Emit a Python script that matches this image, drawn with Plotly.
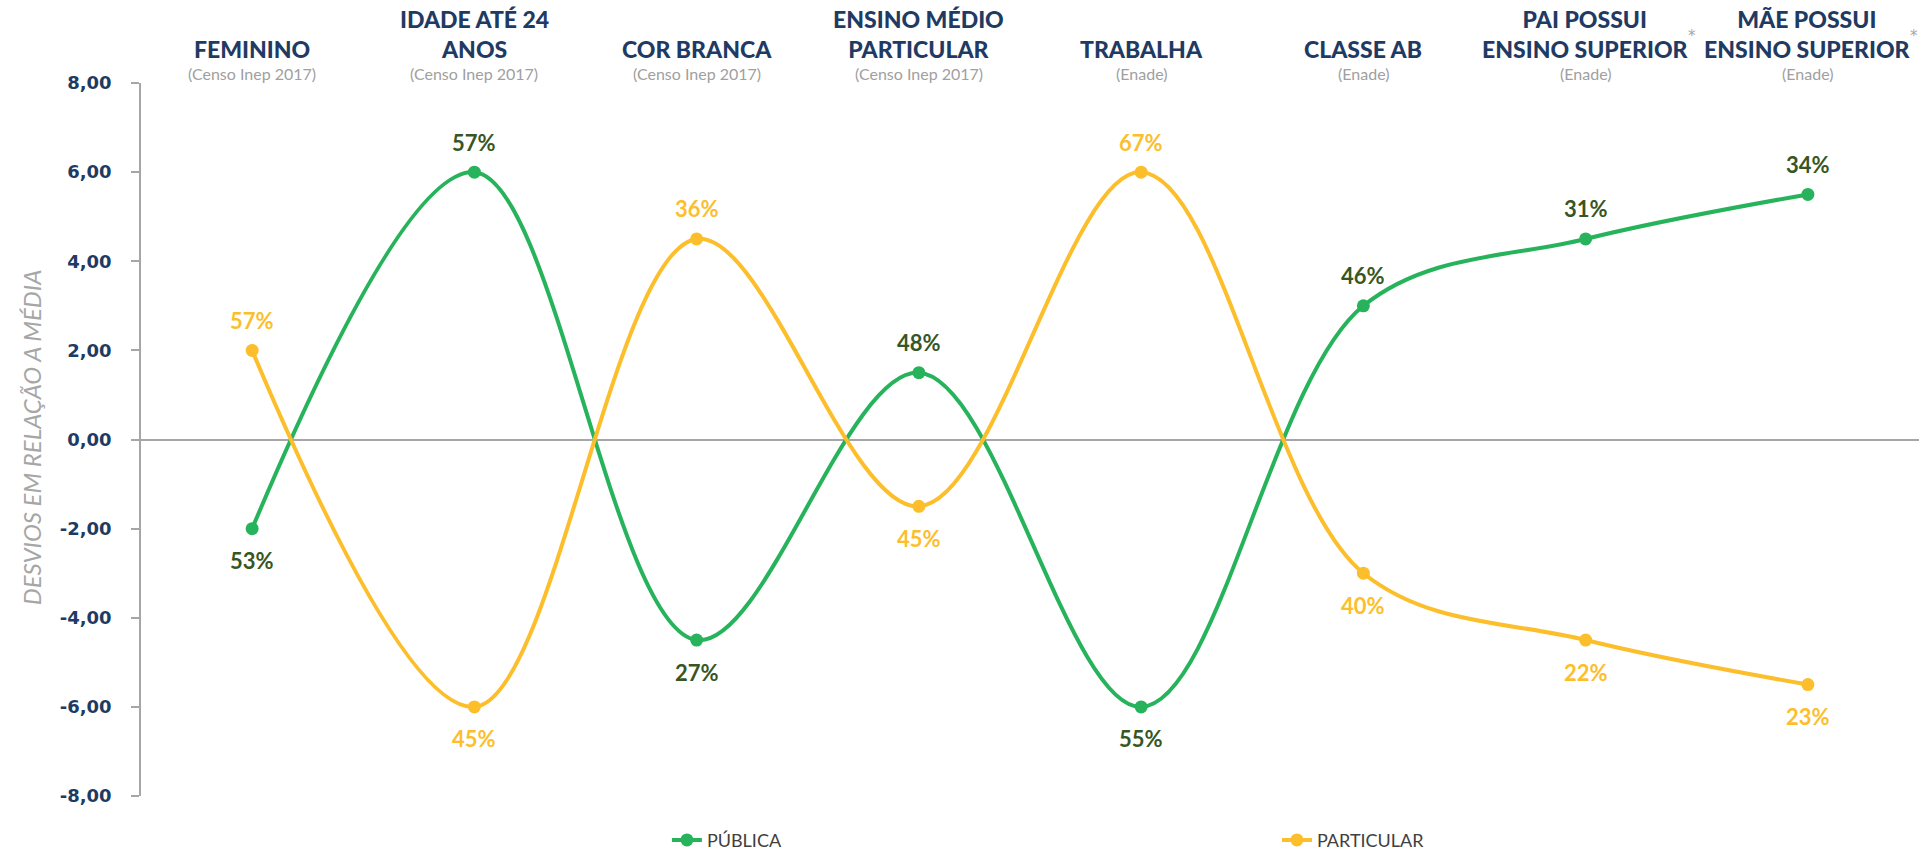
import plotly.graph_objects as go

# Categories shown across the top of the chart
categories = [
    "FEMININO",
    "IDADE ATÉ 24<br>ANOS",
    "COR BRANCA",
    "ENSINO MÉDIO<br>PARTICULAR",
    "TRABALHA",
    "CLASSE AB",
    "PAI POSSUI<br>ENSINO SUPERIOR",
    "MÃE POSSUI<br>ENSINO SUPERIOR",
]
sources = [
    "(Censo Inep 2017)",
    "(Censo Inep 2017)",
    "(Censo Inep 2017)",
    "(Censo Inep 2017)",
    "(Enade)",
    "(Enade)",
    "(Enade)",
    "(Enade)",
]
footnotes = ["", "", "", "", "", "", "*", "*"]

# Deviation from the mean for each network
publica = [-2.0, 6.0, -4.5, 1.5, -6.0, 3.0, 4.5, 5.5]
particular = [2.0, -6.0, 4.5, -1.5, 6.0, -3.0, -4.5, -5.5]

# Share labels printed next to each point
publica_pct = ["53%", "57%", "27%", "48%", "55%", "46%", "31%", "34%"]
particular_pct = ["57%", "45%", "36%", "45%", "67%", "40%", "22%", "23%"]

y_tickvals = [-8, -6, -4, -2, 0, 2, 4, 6, 8]
y_ticktext = ["-8,00", "-6,00", "-4,00", "-2,00", "0,00", "2,00", "4,00", "6,00", "8,00"]

GREEN = "#27B35B"
GREEN_DARK = "#375623"
YELLOW = "#FDBE2C"
NAVY = "#1F3B63"
GRAY = "#A6A6A6"

xs = list(range(len(categories)))

fig = go.Figure()
fig.add_trace(go.Scatter(
    x=xs, y=publica, name="PÚBLICA", mode="lines+markers",
    line=dict(color=GREEN, width=4, shape="spline", smoothing=1),
    marker=dict(color=GREEN, size=13),
))
fig.add_trace(go.Scatter(
    x=xs, y=particular, name="PARTICULAR", mode="lines+markers",
    line=dict(color=YELLOW, width=4, shape="spline", smoothing=1),
    marker=dict(color=YELLOW, size=13),
))

annotations = []

# Point labels: above positive points, below negative ones
for series, labels, color in ((publica, publica_pct, GREEN_DARK), (particular, particular_pct, YELLOW)):
    for x, v, t in zip(xs, series, labels):
        annotations.append(dict(
            x=x, y=v, xref="x", yref="y", text=t, showarrow=False,
            yshift=30 if v > 0 else -32,
            font=dict(family="Lato", size=22, color=color, weight="bold"),
        ))

# Category headers with their data source
for x, cat, src, note in zip(xs, categories, sources, footnotes):
    annotations.append(dict(
        x=x, y=1.0253, xref="x", yref="paper", text=cat, showarrow=False,
        yanchor="bottom",
        font=dict(family="Lato", size=23, color=NAVY, weight=900),
    ))
    annotations.append(dict(
        x=x, y=1.0133, xref="x", yref="paper", text=src, showarrow=False,
        yanchor="middle",
        font=dict(family="Lato", size=16, color="#A0A0A0"),
    ))
    if note:
        annotations.append(dict(
            x=x, y=1.066, xref="x", yref="paper", text=note, showarrow=False,
            xshift=106, xanchor="center", yanchor="middle",
            font=dict(family="DejaVu Sans", size=15, color=GRAY),
        ))

# Vertical axis title
annotations.append(dict(
    x=-0.0619, y=0.503, xref="paper", yref="paper",
    text="DESVIOS EM RELAÇÃO A MÉDIA", showarrow=False, textangle=-90,
    xanchor="center", yanchor="middle",
    font=dict(family="Lato", size=24, color=GRAY, style="italic"),
))

fig.update_layout(
    width=1919, height=851,
    margin=dict(l=141, r=0, t=83, b=55, autoexpand=False),
    paper_bgcolor="white", plot_bgcolor="white",
    annotations=annotations,
    showlegend=True,
    legend=dict(
        orientation="h", x=0.2958, xanchor="left", y=-0.062, yanchor="middle",
        entrywidth=565, entrywidthmode="pixels",
        font=dict(family="Lato", size=18, color="#404040"),
        bgcolor="rgba(0,0,0,0)",
    ),
    xaxis=dict(
        range=[-0.5, 7.5], showgrid=False, zeroline=False, showline=False,
        showticklabels=False, ticks="",
    ),
    yaxis=dict(
        range=[-8, 8], tickvals=y_tickvals, ticktext=y_ticktext,
        showgrid=False, zeroline=True, zerolinecolor=GRAY, zerolinewidth=1.5,
        showline=True, linecolor=GRAY, linewidth=1.5,
        ticks="outside", ticklen=8, tickcolor=GRAY, tickwidth=1.5,
        ticklabelstandoff=16,
        tickfont=dict(family="DejaVu Sans", size=18, color=NAVY, weight="bold"),
    ),
)

fig.write_html("out.html")
